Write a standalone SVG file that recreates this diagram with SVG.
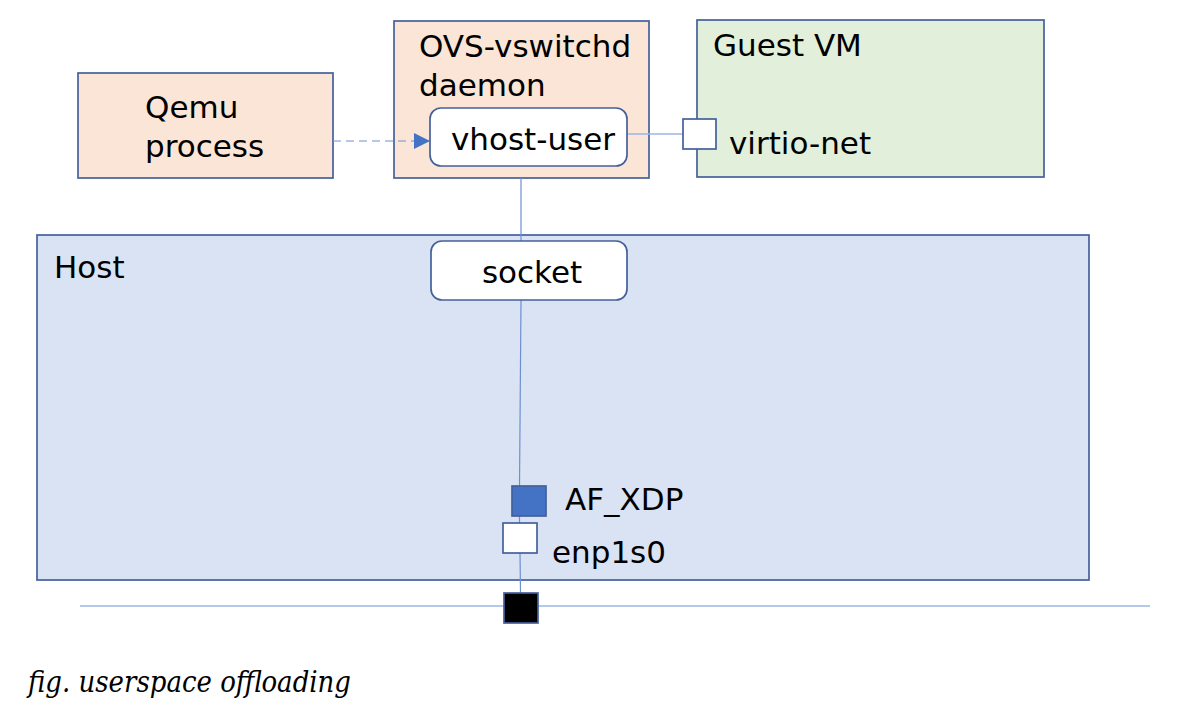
<svg xmlns="http://www.w3.org/2000/svg" width="1182" height="709" viewBox="0 0 1182 709">
<style>
.box{stroke:#44609c;stroke-width:1.7}
.t{font-family:"DejaVu Sans",sans-serif;font-size:31px;fill:#000}
.ln{stroke:#6f8fd0;stroke-width:1.2;fill:none}
.lt{stroke:#9db4e4;stroke-width:1.4;fill:none}
</style>
<defs>
<marker id="arr" viewBox="0 0 10 10" refX="10" refY="5" markerWidth="16" markerHeight="16" markerUnits="userSpaceOnUse" orient="auto">
<path d="M0,0 L10,5 L0,10 z" fill="#4472c4"/>
</marker>
</defs>
<rect width="1182" height="709" fill="#fff"/>
<g id="host">
<rect class="box" x="37" y="235" width="1052" height="345" fill="#dae3f3"/>
<text class="t" x="54" y="278">Host</text>
</g>
<g id="qemu">
<rect class="box" x="78" y="73" width="255" height="105" fill="#fbe5d6"/>
<text class="t" x="145" y="118">Qemu</text>
<text class="t" x="145" y="157">process</text>
</g>
<g id="ovs">
<rect class="box" x="394" y="21" width="255" height="157" fill="#fbe5d6"/>
<text class="t" x="419" y="57">OVS-vswitchd</text>
<text class="t" x="419" y="96">daemon</text>
</g>
<g id="guest">
<rect class="box" x="697" y="20" width="347" height="157" fill="#e2efda"/>
<text class="t" x="713" y="56">Guest VM</text>
</g>
<g id="connectors">
<line class="ln" x1="333" y1="141" x2="430" y2="141" stroke-dasharray="8,5" marker-end="url(#arr)"/>
<line class="lt" x1="627" y1="134" x2="683" y2="134"/>
<line class="ln" x1="521" y1="178" x2="521" y2="241"/>
<line class="ln" x1="521" y1="300" x2="519.5" y2="486"/>
<line class="ln" x1="519.5" y1="516" x2="519.5" y2="523"/>
<line class="ln" x1="520" y1="553" x2="520.5" y2="593"/>
<line class="lt" x1="80" y1="606" x2="1150" y2="606"/>
</g>
<g id="vhost-user">
<rect class="box" x="430" y="108" width="197" height="58" rx="11" fill="#fff"/>
<text class="t" x="533" y="150" text-anchor="middle">vhost-user</text>
</g>
<g id="virtio-net">
<rect class="box" x="683" y="119" width="33" height="30" fill="#fff"/>
<text class="t" x="729" y="154">virtio-net</text>
</g>
<g id="socket">
<rect class="box" x="431" y="241" width="196" height="59" rx="11" fill="#fff"/>
<text class="t" x="532" y="283" text-anchor="middle">socket</text>
</g>
<g id="af-xdp">
<rect class="box" x="512" y="486" width="34" height="30" fill="#4472c4"/>
<text class="t" x="565" y="510">AF_XDP</text>
</g>
<g id="enp1s0">
<rect class="box" x="503" y="523" width="34" height="30" fill="#fff"/>
<text class="t" x="552" y="563">enp1s0</text>
</g>
<g id="nic">
<rect class="box" x="504" y="593" width="34" height="30" fill="#000"/>
</g>
<text x="28" y="692" font-family="'DejaVu Serif',serif" font-style="italic" font-size="29" textLength="323" lengthAdjust="spacingAndGlyphs">fig. userspace offloading</text>
</svg>
